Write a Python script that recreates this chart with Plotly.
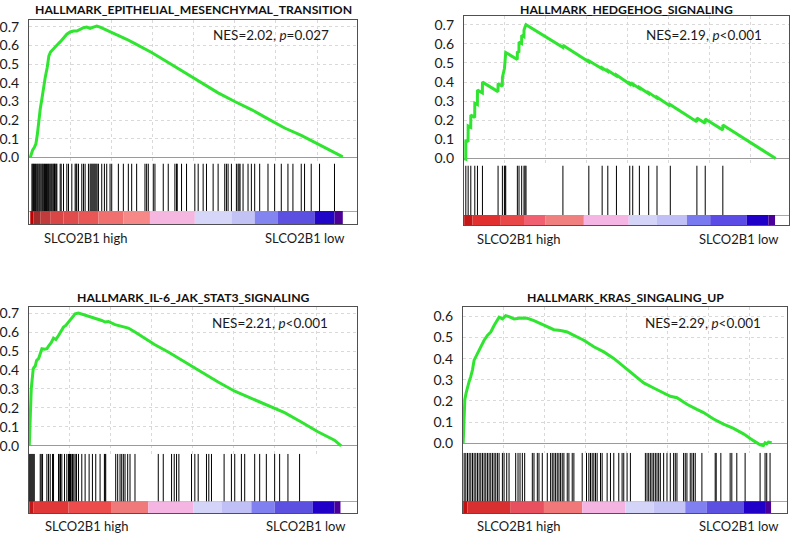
import plotly.graph_objects as go

# ------------------------------------------------------------------ data
titles = ["HALLMARK_EPITHELIAL_MESENCHYMAL_TRANSITION", "HALLMARK_HEDGEHOG_SIGNALING",
          "HALLMARK_IL-6_JAK_STAT3_SIGNALING", "HALLMARK_KRAS_SINGALING_UP"]
nes_text = ["NES=2.02, <i>p</i>=0.027", "NES=2.19, <i>p</i><0.001",
            "NES=2.21, <i>p</i><0.001", "NES=2.29, <i>p</i><0.001"]
high_label = "SLCO2B1 high"
low_label = "SLCO2B1 low"

# Panel 1 : EMT
es1_rank = [0, 140, 240, 340, 420, 500, 600, 700, 800, 900, 1020, 1120, 1220, 1400, 1600, 1800, 2000,
            2200, 2400, 2600, 2800, 3000, 3200, 3400, 3600, 3800, 4000, 4200, 4500, 4900, 5300, 5800,
            6300, 7300, 8300, 9300, 10300, 11300, 12300, 13300, 14300, 15300, 16300, 17300, 18300, 18800]
es1_val = [0.0, 0.039, 0.053, 0.074, 0.119, 0.199, 0.26, 0.314, 0.376, 0.429, 0.482, 0.544, 0.565, 0.58,
           0.601, 0.619, 0.642, 0.66, 0.672, 0.677, 0.677, 0.686, 0.695, 0.698, 0.691, 0.698, 0.704, 0.698,
           0.686, 0.672, 0.656, 0.633, 0.61, 0.562, 0.509, 0.455, 0.399, 0.346, 0.3, 0.257, 0.207, 0.158,
           0.119, 0.074, 0.027, 0.004]
hits1 = [100, 150, 200, 250, 310, 360, 420, 470, 530, 580, 640, 700, 750, 810, 860, 920, 980, 1030, 1090,
         1140, 1200, 1260, 1310, 1370, 1420, 1460, 1500, 1560, 1600, 1800, 1860, 2000, 2200, 2300, 2500,
         2700, 2760, 2800, 2900, 3100, 3200, 3300, 3500, 3600, 3660, 3720, 3780, 3840, 3900, 3960, 4020,
         4100, 4300, 4460, 4600, 4800, 4900, 5300, 5600, 5900, 6100, 6400, 6900, 7000, 7100, 7400, 7500,
         8000, 8300, 8700, 8800, 8840, 9100, 9400, 9900, 10100, 10400, 10600, 11000, 11300, 11700, 11800,
         11900, 12100, 12400, 12500, 12560, 12620, 12800, 13100, 13300, 13500, 13800, 14300, 14700, 15100,
         15500, 15800, 16300, 16500, 16900, 17400, 18300]
cbar1_edges = [0, 200, 600, 1200, 2000, 2900, 4100, 5600, 7200, 9900, 12100, 13500, 14900, 17100, 18300, 18800]
cbar1_colors = ['#c00000', '#a02c2c', '#c03c3c', '#d84646', '#e04c4c', '#e85656', '#f07070', '#f78888',
                '#f5b6e0', '#d6d6f8', '#c2c2f4', '#8484f0', '#5c50e0', '#2206c8', '#4c0098']

# Panel 2 : Hedgehog
es2_rank = [0, 95, 100, 235, 240, 395, 400, 635, 640, 795, 800, 1095, 1100, 2035, 2040, 2295, 2300, 2420,
            2460, 2500, 3195, 3200, 3295, 3300, 3455, 3460, 3595, 3600, 3660, 3720, 5935, 5940, 7495, 7500,
            8295, 8300, 8635, 8640, 9155, 9160, 9955, 9960, 10135, 10140, 10535, 10540, 11095, 11100, 11595,
            11600, 12395, 12400, 13995, 14000, 14495, 14500, 15555, 15560, 18740]
es2_val = [0.0, -0.003, 0.095, 0.088, 0.17, 0.163, 0.228, 0.215, 0.29, 0.283, 0.358, 0.343, 0.40, 0.35,
           0.392, 0.378, 0.425, 0.47, 0.51, 0.555, 0.518, 0.56, 0.555, 0.61, 0.602, 0.645, 0.638, 0.672,
           0.688, 0.70, 0.582, 0.593, 0.506, 0.512, 0.47, 0.475, 0.456, 0.461, 0.432, 0.437, 0.39, 0.395,
           0.385, 0.39, 0.367, 0.372, 0.34, 0.345, 0.316, 0.321, 0.275, 0.282, 0.193, 0.212, 0.185, 0.207,
           0.15, 0.175, 0.0]
hits2 = [100, 240, 400, 640, 800, 1100, 2040, 2300, 2420, 2460, 2500, 3200, 3300, 3460, 3600, 3660, 3720,
         5940, 7500, 8300, 8640, 9160, 9960, 10140, 10540, 11100, 11600, 12400, 14000, 14500, 15560]
cbar2_edges = [0, 500, 2200, 3600, 4900, 7200, 9900, 11600, 13400, 14800, 17000, 18300, 18700]
cbar2_colors = ['#c41818', '#e03030', '#e84848', '#f06070', '#f08080', '#f4b4e4', '#d4d4f8', '#c0c0f6',
                '#7a7af0', '#5a4ce4', '#2000c8', '#4a0098']

# Panel 3 : IL-6 / JAK / STAT3
es3_rank = [0, 40, 80, 120, 180, 240, 300, 360, 440, 560, 660, 760, 920, 1060, 1160, 1320, 1460, 1600, 1760,
            1920, 2060, 2200, 2360, 2560, 2760, 2960, 3160, 3560, 3960, 4360, 4560, 4760, 5160, 5560, 5960,
            6360, 6960, 7560, 8360, 9360, 10360, 11360, 12360, 13360, 14360, 15360, 16360, 17360, 18360, 18760]
es3_val = [0.0, 0.109, 0.232, 0.30, 0.354, 0.407, 0.416, 0.42, 0.45, 0.46, 0.486, 0.512, 0.509, 0.512, 0.526,
           0.544, 0.568, 0.561, 0.582, 0.609, 0.626, 0.635, 0.653, 0.674, 0.696, 0.70, 0.695, 0.684, 0.674,
           0.661, 0.653, 0.656, 0.639, 0.632, 0.621, 0.60, 0.565, 0.533, 0.495, 0.442, 0.389, 0.337, 0.288,
           0.249, 0.214, 0.175, 0.126, 0.074, 0.03, 0.0]
hits3 = [0, 60, 120, 180, 240, 300, 660, 720, 800, 1060, 1160, 1260, 1400, 1460, 1760, 1840, 1880, 1960,
         2120, 2260, 2360, 2420, 2480, 2520, 2600, 2680, 2760, 2840, 2960, 3160, 3360, 3600, 3800, 4000,
         4260, 4520, 4560, 4600, 5200, 5320, 5460, 5560, 5660, 5760, 5920, 6060, 6360, 7760, 8060, 8560,
         8720, 8860, 9000, 9760, 9960, 10160, 10660, 10800, 10960, 11720, 12160, 12360, 12760, 12960,
         13560, 13860, 14260, 14760, 15060, 15560, 16260]
cbar3_edges = [0, 260, 2360, 4960, 7160, 9860, 11560, 13360, 14760, 17060, 18360, 18720]
cbar3_colors = ['#c01818', '#e03838', '#ec4c4c', '#f07a7a', '#f5b5e2', '#d4d4f8', '#c0c0f6', '#8080f0',
                '#5c50e0', '#2000c8', '#4a0098']

# Panel 4 : KRAS
es4_rank = [0, 40, 100, 180, 260, 360, 460, 560, 660, 760, 900, 1060, 1260, 1460, 1660, 1860, 2060, 2160,
            2360, 2560, 2760, 3060, 3460, 3860, 4260, 4660, 5060, 5460, 5860, 6260, 6660, 7260, 7860, 8460,
            9060, 9660, 10260, 10860, 11460, 12060, 12460, 12860, 13460, 14060, 14460, 15060, 15660, 16260,
            16860, 17460, 17860, 18060, 18160, 18260, 18360, 18560]
es4_val = [0.0, 0.129, 0.207, 0.238, 0.269, 0.292, 0.316, 0.347, 0.393, 0.409, 0.425, 0.456, 0.487, 0.51,
           0.526, 0.557, 0.58, 0.596, 0.588, 0.603, 0.599, 0.588, 0.592, 0.591, 0.58, 0.565, 0.549, 0.537,
           0.533, 0.526, 0.51, 0.487, 0.456, 0.432, 0.401, 0.362, 0.323, 0.285, 0.261, 0.238, 0.222, 0.215,
           0.184, 0.16, 0.145, 0.114, 0.09, 0.07, 0.044, 0.012, -0.008, -0.011, 0.002, -0.003, 0.005, 0.002]
hits4 = [60, 160, 260, 360, 460, 560, 660, 760, 860, 960, 1060, 1160, 1260, 1360, 1460, 1560, 1660, 1760,
         1860, 1960, 2060, 2160, 2360, 2460, 2620, 2760, 3160, 3300, 3420, 3560, 3700, 4160, 4260, 4460,
         4560, 4760, 5060, 5260, 5360, 5460, 5560, 5660, 5760, 5860, 5960, 6060, 6260, 6360, 6560, 6660,
         7160, 7420, 7560, 7660, 7760, 7860, 7960, 8060, 8260, 8360, 8660, 8860, 9060, 9360, 9560, 9660,
         9860, 10060, 10960, 11060, 11160, 11260, 11360, 11460, 11560, 11660, 11760, 11860, 12060, 12260,
         12460, 12660, 12760, 12860, 13260, 13360, 13460, 13660, 13760, 13860, 13960, 14360, 15160, 15220,
         15500, 16060, 16160, 16460, 16960, 17860, 18160, 18260, 18460]
cbar4_edges = [0, 260, 2860, 4860, 7160, 9760, 11460, 13360, 14660, 16860, 18160, 18520]
cbar4_colors = ['#c01010', '#d83030', '#e85060', '#f07878', '#f4b4e2', '#d4d4f8', '#c4c4f6', '#8080f0',
                '#5c50e0', '#2000c8', '#4a0098']

ytick_vals = [[0, 0.1, 0.2, 0.3, 0.4, 0.5, 0.6, 0.7]] * 3 + [[0, 0.1, 0.2, 0.3, 0.4, 0.5, 0.6]]

# ------------------------------------------------------------------ layout geometry (pixels)
W, H = 793, 537
boxes = [  # left, right, top, sep, cbar_top, bottom, zero_px, px_per_unit, rank0_px
    dict(l=27, r=356, t=17, s=162, c=210, b=223, z=156, ppu=188.6, x0=28.33),
    dict(l=463, r=789, t=13, s=164, c=214, b=224, z=157, ppu=192.9, x0=463.33),
    dict(l=27, r=356, t=307, s=455, c=503, b=515, z=447, ppu=191.4, x0=27.33),
    dict(l=462, r=787, t=307, s=454, c=503, b=515, z=444.3, ppu=213.3, x0=462.33),
]
RANK_PER_PX = 60
title_pos = [(192, 7), (626, 7), (192, 297), (625, 297)]
nes_pos = [(269.5, 32), (703.5, 32), (269, 323), (703, 323)]
high_pos = [(83.5, 237), (518, 238), (84.5, 528), (518, 528)]
low_pos = [(304, 237), (739, 238), (305, 528), (738.5, 528)]

def px(x):
    return x / W

def py(y):
    return 1 - y / H

GREEN = '#30e530'
FRAME = '#505050'
GRID = '#d9d9d9'
DOTS = 'dot'
FONT = 'Lato'

panels = [
    (es1_rank, es1_val, hits1, cbar1_edges, cbar1_colors),
    (es2_rank, es2_val, hits2, cbar2_edges, cbar2_colors),
    (es3_rank, es3_val, hits3, cbar3_edges, cbar3_colors),
    (es4_rank, es4_val, hits4, cbar4_edges, cbar4_colors),
]

fig = go.Figure()
lay = {}
ann = []

def axname(kind, n):
    return f"{kind}axis" if n == 1 else f"{kind}axis{n}"

for i, (rk, es, hits, edges, cols) in enumerate(panels):
    bx = boxes[i]
    a, b = 2 * i + 1, 2 * i + 2
    xa, xb = ("x" if a == 1 else f"x{a}"), f"x{b}"
    ya, yb = ("y" if a == 1 else f"y{a}"), f"y{b}"
    xr = [(bx['l'] - bx['x0']) * RANK_PER_PX, (bx['r'] - bx['x0']) * RANK_PER_PX]
    yr = [-(bx['s'] - bx['z']) / bx['ppu'], (bx['z'] - bx['t']) / bx['ppu']]
    cbf = (bx['b'] - bx['c']) / (bx['b'] - bx['s'])

    # running enrichment score
    fig.add_trace(go.Scatter(x=rk, y=es, mode='lines', line=dict(color=GREEN, width=3),
                             xaxis=xa, yaxis=ya, showlegend=False, hoverinfo='skip'))
    # gene hits
    hx, hy = [], []
    for h in hits:
        hx += [h, h, None]
        hy += [cbf, 1, None]
    fig.add_trace(go.Scatter(x=hx, y=hy, mode='lines', line=dict(color='black', width=1),
                             xaxis=xb, yaxis=yb, showlegend=False, hoverinfo='skip'))
    # ranked list colour bar
    centres = [(edges[k] + edges[k + 1]) / 2 for k in range(len(edges) - 1)]
    widths = [edges[k + 1] - edges[k] for k in range(len(edges) - 1)]
    fig.add_trace(go.Bar(x=centres, y=[cbf] * len(centres), width=widths, base=0,
                         marker=dict(color=cols, line=dict(width=0)),
                         xaxis=xb, yaxis=yb, showlegend=False, hoverinfo='skip'))

    lay[axname('x', a)] = dict(domain=[px(bx['l']), px(bx['r'])], range=xr, anchor=ya, side='top',
                               showline=True, linecolor=FRAME, linewidth=1, showgrid=True,
                               gridcolor=GRID, griddash=DOTS, gridwidth=1, tick0=-40, dtick=2470,
                               showticklabels=False, ticks='', zeroline=False)
    lay[axname('y', a)] = dict(domain=[py(bx['s']), py(bx['t'])], range=yr, anchor=xa,
                               showline=True, mirror=True, linecolor=FRAME, linewidth=1,
                               showgrid=True, gridcolor=GRID, griddash=DOTS, gridwidth=1,
                               tickvals=ytick_vals[i], ticktext=[f"{v:.1f}" for v in ytick_vals[i]],
                               tickfont=dict(family=FONT, size=14, color='#1a1a1a'),
                               ticks='outside', ticklen=6, tickcolor='rgba(0,0,0,0)',
                               zeroline=True, zerolinecolor='#9a9a9a', zerolinewidth=1)
    lay[axname('x', b)] = dict(domain=[px(bx['l']), px(bx['r'])], range=xr, anchor=yb,
                               showline=True, linecolor=FRAME, linewidth=1, showgrid=False,
                               showticklabels=False, ticks='', zeroline=False)
    lay[axname('y', b)] = dict(domain=[py(bx['b']), py(bx['s'])], range=[0, 1], anchor=xb,
                               showline=True, mirror=True, linecolor=FRAME, linewidth=1,
                               tickvals=[cbf, 1], showgrid=True, gridcolor='#a8a8a8', gridwidth=1,
                               showticklabels=False, ticks='', zeroline=False)

    ann.append(dict(x=px(title_pos[i][0]), y=py(title_pos[i][1]), xref='paper', yref='paper',
                    text=f"<b>{titles[i]}</b>", showarrow=False, xanchor='center', yanchor='middle',
                    font=dict(family=FONT, size=12.2, color='#111')))
    ann.append(dict(x=px(nes_pos[i][0]), y=py(nes_pos[i][1]), xref='paper', yref='paper',
                    text=nes_text[i], showarrow=False, xanchor='center', yanchor='middle',
                    font=dict(family=FONT, size=13.5, color='#1a1a1a')))
    ann.append(dict(x=px(high_pos[i][0]), y=py(high_pos[i][1]), xref='paper', yref='paper',
                    text=high_label, showarrow=False, xanchor='center', yanchor='middle',
                    font=dict(family=FONT, size=13, color='#1a1a1a')))
    ann.append(dict(x=px(low_pos[i][0]), y=py(low_pos[i][1]), xref='paper', yref='paper',
                    text=low_label, showarrow=False, xanchor='center', yanchor='middle',
                    font=dict(family=FONT, size=13, color='#1a1a1a')))

fig.update_layout(width=W, height=H, margin=dict(l=0, r=0, t=0, b=0),
                  paper_bgcolor='white', plot_bgcolor='white', showlegend=False,
                  barmode='overlay', annotations=ann, hovermode=False, **lay)
fig.write_html("out.html", config={'displayModeBar': False, 'staticPlot': True},
               post_script="document.body.style.margin='0';document.body.style.padding='0';"
                           "document.documentElement.style.overflow='hidden';")
